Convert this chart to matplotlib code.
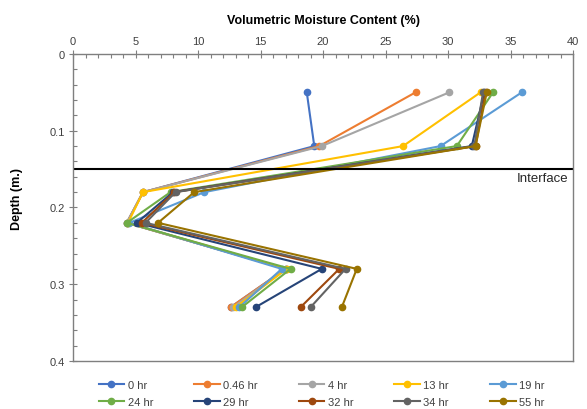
import matplotlib.pyplot as plt
from matplotlib.ticker import MultipleLocator

plt.rcParams['font.family'] = ['Liberation Sans', 'DejaVu Sans']

# Tiefen der Messpunkte (m) und Feuchtegehalt (%) je Zeitpunkt
depth = [0.05, 0.12, 0.18, 0.22, 0.28, 0.33]
labels = ['0 hr', '0.46 hr', '4 hr', '13 hr', '19 hr',
          '24 hr', '29 hr', '32 hr', '34 hr', '55 hr']
m0 = [18.7, 19.3, 5.6, 4.3, 17.0, 12.6]
m046 = [27.4, 19.7, 5.6, 4.3, 17.0, 12.6]
m4 = [30.1, 19.9, 5.6, 4.3, 17.0, 12.8]
m13 = [32.6, 26.4, 5.6, 4.4, 17.1, 13.0]
m19 = [35.9, 29.4, 10.5, 4.5, 16.7, 13.3]
m24 = [33.6, 30.7, 7.8, 4.3, 17.4, 13.5]
m29 = [32.9, 31.9, 8.0, 5.1, 19.9, 14.6]
m32 = [33.0, 32.2, 8.1, 5.5, 21.3, 18.2]
m34 = [32.8, 32.1, 8.2, 5.8, 21.8, 19.0]
m55 = [33.1, 32.2, 9.7, 6.8, 22.7, 21.5]
interface = 0.15

colors = ['#4472C4', '#ED7D31', '#A5A5A5', '#FFC000', '#5B9BD5',
          '#70AD47', '#264478', '#9E480E', '#636363', '#997300']
series = [m0, m046, m4, m13, m19, m24, m29, m32, m34, m55]

fig = plt.figure(figsize=(5.87, 4.10), dpi=100)
ax = fig.add_axes([0.1244, 0.1171, 0.8518, 0.7488])

for vals, lab, col in zip(series, labels, colors):
    ax.plot(vals, depth, '-o', color=col, lw=1.5, ms=4.5, label=lab)

ax.axhline(interface, color='black', lw=1.5)
ax.text(39.6, interface + 0.004, 'Interface', ha='right', va='top', fontsize=9.5, color='#262626')

ax.set_xlim(0, 40)
ax.set_ylim(0.4, 0)
ax.xaxis.tick_top()
ax.xaxis.set_label_position('top')
ax.xaxis.set_major_locator(MultipleLocator(5))
ax.xaxis.set_minor_locator(MultipleLocator(1))
ax.yaxis.set_major_locator(MultipleLocator(0.1))
ax.yaxis.set_minor_locator(MultipleLocator(0.02))
ax.yaxis.set_major_formatter(plt.FuncFormatter(lambda v, p: '0' if v == 0 else f'{v:g}'))
ax.tick_params(which='major', direction='inout', length=6, width=0.8, color='#7f7f7f',
               labelsize=8, labelcolor='#404040', pad=3)
ax.tick_params(which='minor', direction='in', length=3, width=0.8, color='#7f7f7f')
for s in ax.spines.values():
    s.set_color('#7f7f7f')
    s.set_linewidth(1.0)

ax.set_xlabel('Volumetric Moisture Content (%)', fontsize=9, fontweight='bold', labelpad=9)
ax.set_ylabel('Depth (m.)', fontsize=9, fontweight='bold')
ax.yaxis.set_label_coords(-0.1, 0.53)

# Legende zeilenweise wie im Original
h, l = ax.get_legend_handles_labels()
order = [0, 5, 1, 6, 2, 7, 3, 8, 4, 9]
ax.legend([h[i] for i in order], [l[i] for i in order],
          loc='upper center', bbox_to_anchor=(0.497, -0.035), ncol=5, frameon=False,
          fontsize=8, handlelength=2.3, columnspacing=3.7, handletextpad=0.3,
          labelspacing=0.65, labelcolor='#404040', borderpad=0.2)

fig.savefig('out.png', dpi=100)
